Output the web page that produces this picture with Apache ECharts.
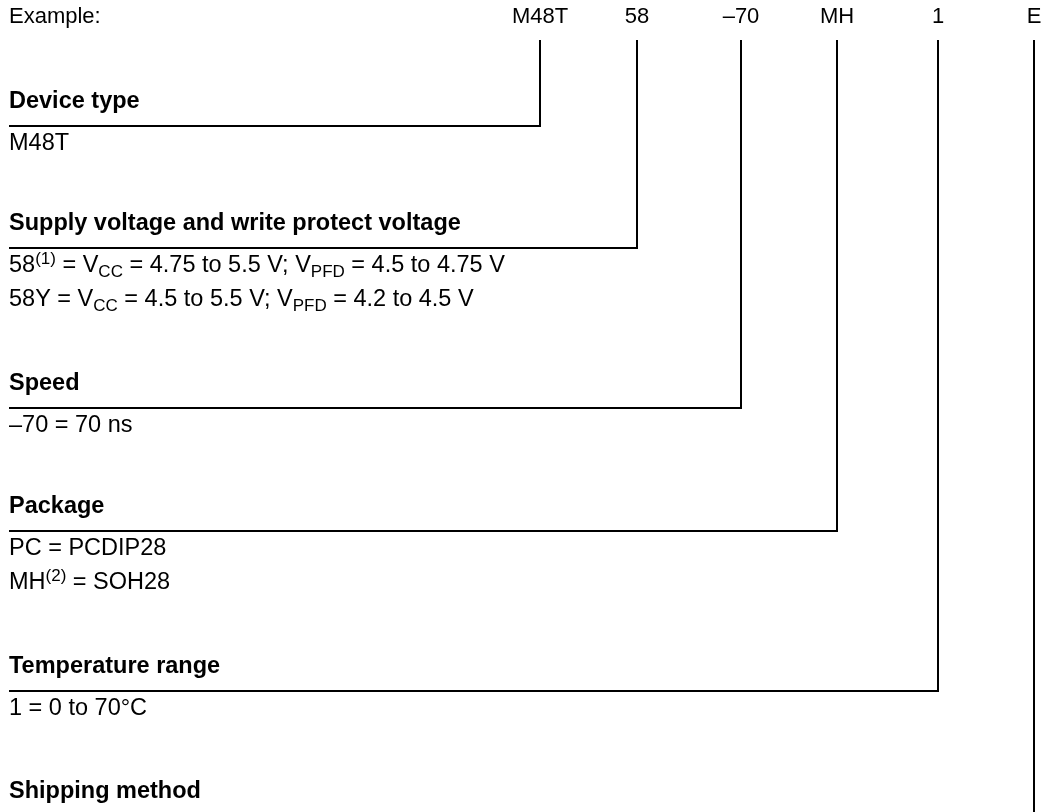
<!DOCTYPE html>
<html>
<head>
<meta charset="utf-8">
<script src="https://cdn.jsdelivr.net/npm/echarts@6/dist/echarts.min.js"></script>
<style>
html,body{margin:0;padding:0;background:#fff;}
#c{width:1049px;height:812px;}
</style>
</head>
<body>
<div id="c"></div>
<script>
// ---- data ----
var exampleLabel = 'Example:';
var codes = ['M48T', '58', '–70', 'MH', '1', 'E'];
var headings = ['Device type', 'Supply voltage and write protect voltage', 'Speed', 'Package', 'Temperature range', 'Shipping method'];
var options0 = ['M48T'];
var options1 = ['58{sup|(1)} = V{sub|CC} = 4.75 to 5.5 V; V{sub|PFD} = 4.5 to 4.75 V', '58Y = V{sub|CC} = 4.5 to 5.5 V; V{sub|PFD} = 4.2 to 4.5 V'];
var options2 = ['–70 = 70 ns'];
var options3 = ['PC = PCDIP28', 'MH{sup|(2)} = SOH28'];
var options4 = ['1 = 0 to 70°C'];
var options5 = [];
var optionLists = [options0, options1, options2, options3, options4, options5];

// ---- layout ----
var W = 1049, H = 812;
var leftX = 9;
var codeX = [540, 637, 741, 837, 938, 1034];
var codeBaseY = 28;
var vTopY = 41;
var lineY = [126, 248, 408, 531, 691, 816];
var itemStep = 34;
var FONT = '"Liberation Sans", Arial, Helvetica, sans-serif';
var FS = 23.5, FSB = 23.5, FSC = 22;

var chart = echarts.init(document.getElementById('c'), null, {renderer: 'canvas'});

var series = codes.map(function (c, i) {
  return {
    type: 'line',
    name: headings[i],
    data: [[leftX + 1, lineY[i]], [codeX[i], lineY[i]], [codeX[i], vTopY]],
    symbol: 'none',
    silent: true,
    animation: false,
    lineStyle: {color: '#000', width: 2, cap: 'square', join: 'miter'},
    clip: true
  };
});

chart.setOption({
  animation: false,
  backgroundColor: '#fff',
  grid: {left: 0, right: 0, top: 0, bottom: 0, containLabel: false},
  xAxis: {type: 'value', min: 0, max: W, show: false},
  yAxis: {type: 'value', min: 0, max: H, inverse: true, show: false},
  series: series
});

function px(x, y) { return chart.convertToPixel({gridIndex: 0}, [x, y]); }

var rich = {
  sup: {fontSize: 17, fontFamily: FONT, color: '#000', verticalAlign: 'top', lineHeight: 30},
  sub: {fontSize: 17, fontFamily: FONT, color: '#000', verticalAlign: 'bottom', lineHeight: 30}
};

var graphics = [];
var p = px(leftX, codeBaseY);
graphics.push({type: 'text', x: p[0], y: p[1], style: {text: exampleLabel, font: FSC + 'px ' + FONT, fill: '#000', verticalAlign: 'bottom'}});
codes.forEach(function (c, i) {
  var q = px(codeX[i], codeBaseY);
  graphics.push({type: 'text', x: q[0], y: q[1], style: {text: c, font: FSC + 'px ' + FONT, fill: '#000', align: 'center', verticalAlign: 'bottom'}});
});
headings.forEach(function (h, i) {
  var q = px(leftX, lineY[i] - 12);
  graphics.push({type: 'text', x: q[0], y: q[1], style: {text: h, font: 'bold ' + FSB + 'px ' + FONT, fill: '#000', verticalAlign: 'bottom'}});
  optionLists[i].forEach(function (t, k) {
    var r = px(leftX, lineY[i] + 3 + k * itemStep);
    graphics.push({type: 'text', x: r[0], y: r[1], style: {text: t, fontSize: FS, fontFamily: FONT, fill: '#000', verticalAlign: 'top', lineHeight: 30, rich: rich}});
  });
});
chart.setOption({graphic: graphics});
</script>
</body>
</html>
